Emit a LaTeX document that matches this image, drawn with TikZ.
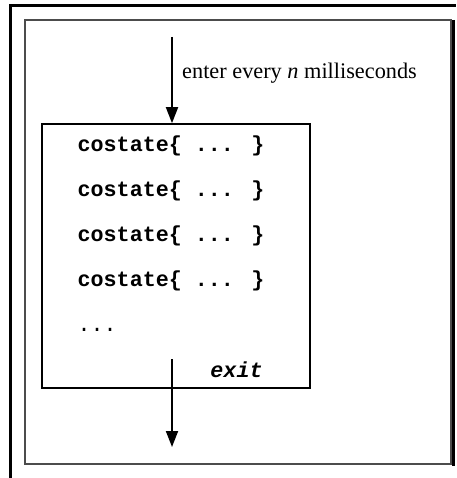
\documentclass[tikz,border=0pt]{standalone}
\usepackage{fontspec}
\setmainfont{Liberation Serif}
\newfontfamily\codefont{Liberation Mono}
\usepackage{tikz}
\usetikzlibrary{positioning,arrows.meta}
\tikzset{node distance=45pt, code/.style={font=\codefont\fontsize{21.7}{26}\selectfont\bfseries, inner sep=0pt},
	flow/.style={line width=1.8pt, -{Triangle[length=16pt,width=12pt]}}}

\begin{document}
\begin{tikzpicture}[x=1pt,y=-1pt]
				\useasboundingbox (0,0) rectangle (456,478);
				% frame
				\draw[line width=3pt] (10.5,478) -- (10.5,5.5) -- (456,5.5);
				\draw[line width=1.2pt, black!70] (25,20) rectangle (451,464);
				\draw[line width=3pt] (453.5,20) -- (453.5,466);

				\node[draw, line width=1.6pt, minimum width=268pt, minimum height=264pt, inner sep=0pt] (box) at (176,256) {};

				\node[code] (C1) at (171,146) {costate\{ ... \}};
				\node[code, on grid] (C2) [below=of C1] {costate\{ ... \}};
				\node[code, on grid] (C3) [below=of C2] {costate\{ ... \}};
				\node[code, on grid] (C4) [below=of C3] {costate\{ ... \}};
				\node[code, on grid, font=\codefont\fontsize{21.7}{26}\selectfont] (D) [below=49pt of C4.west, anchor=west] {...};
				\node[code, font=\codefont\fontsize{21.7}{26}\selectfont\bfseries\itshape] (X) at (236.5,370) {exit};

				\coordinate (in) at (172,37);
				\coordinate (start) at (172,359);
				\coordinate (out) at (172,447);
				\node[anchor=west, inner sep=0pt, font=\fontsize{22.3}{26}\selectfont] (L) at (182,73) {enter every \textit{n} milliseconds};

				\draw[flow] (in) -- (in |- box.north);
				\draw[flow] (start) -- (out);
			\end{tikzpicture}
\end{document}
